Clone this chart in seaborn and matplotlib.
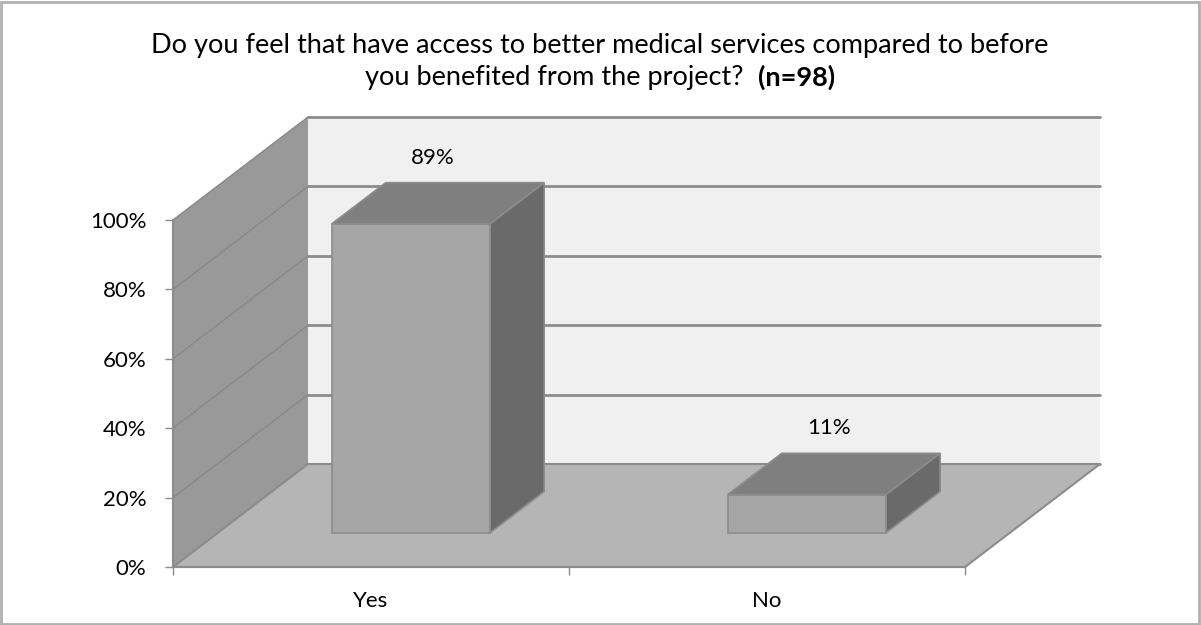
import numpy as np
import pandas as pd
import seaborn as sns
import matplotlib.pyplot as plt
from matplotlib.patches import Polygon, Rectangle

# data
categories = ['Yes', 'No']
values = [89, 11]
y_ticks = [0, 20, 40, 60, 80, 100]
title_main = 'Do you feel that have access to better medical services compared to before'
title_sub = 'you benefited from the project?  '
title_n = '(n=98)'

sns.set_style('white')
plt.rcParams['font.family'] = ['Lato', 'DejaVu Sans']
plt.rcParams['text.color'] = 'black'
plt.rcParams['xtick.labelcolor'] = 'black'
plt.rcParams['ytick.labelcolor'] = 'black'

W, H = 1201, 625
fig = plt.figure(figsize=(W / 100, H / 100), dpi=100)
# front plane of the 3d box: x 173..965 px, y 0% at 567 px, 100% at 220 px
ax = fig.add_axes([173 / W, (H - 567) / H, 792 / W, 347 / H])
ax.set_facecolor('none')

# depth offset of the back wall in data units
DX = 135 / 396
DY = 103 / 3.47
f0, f1 = 0.333, 0.733   # bar front / back depth fraction
shift = -5 / 396        # excel puts the bars a bit left of the category centre

wall_back = '#f0f0f0'
wall_left = '#999999'
floor_col = '#b5b5b5'
edge = '#8c8c8c'

# back wall
ax.add_patch(Polygon([(-0.5 + DX, DY), (1.5 + DX, DY), (1.5 + DX, 100 + DY), (-0.5 + DX, 100 + DY)],
                     closed=True, fc=wall_back, ec='none', zorder=0.5, clip_on=False))
# left wall
ax.add_patch(Polygon([(-0.5, 0), (-0.5 + DX, DY), (-0.5 + DX, 100 + DY), (-0.5, 100)],
                     closed=True, fc=wall_left, ec='none', zorder=0.5, clip_on=False))
# floor
ax.add_patch(Polygon([(-0.5, 0), (1.5, 0), (1.5 + DX, DY), (-0.5 + DX, DY)],
                     closed=True, fc=floor_col, ec=edge, lw=1.5, zorder=0.7, clip_on=False))

# gridlines on back and left wall
for v in y_ticks:
    ax.plot([-0.5 + DX, 1.5 + DX], [v + DY, v + DY], color=edge, lw=2, zorder=0.6, clip_on=False)
    ax.plot([-0.5, -0.5 + DX], [v, v + DY], color='#888888', lw=1, zorder=0.6, clip_on=False)

# bars: front faces from seaborn, then shifted back and given top and side faces
df = pd.DataFrame({'answer': categories, 'share': values})
sns.barplot(data=df, x='answer', y='share', color='#a6a6a6', width=0.4, saturation=1,
            edgecolor=edge, linewidth=1.2, ax=ax, zorder=2)

bdx = (f1 - f0) * DX
bdy = (f1 - f0) * DY
for p, val in zip(ax.patches[-len(values):], values):
    x0 = p.get_x() + f0 * DX + shift
    y0 = f0 * DY
    w = p.get_width()
    h = p.get_height()
    p.set_x(x0)
    p.set_y(y0)
    p.set_clip_on(False)
    top = [(x0, y0 + h), (x0 + w, y0 + h), (x0 + w + bdx, y0 + h + bdy), (x0 + bdx, y0 + h + bdy)]
    side = [(x0 + w, y0), (x0 + w + bdx, y0 + bdy), (x0 + w + bdx, y0 + h + bdy), (x0 + w, y0 + h)]
    ax.add_patch(Polygon(top, closed=True, fc='#7f7f7f', ec=edge, lw=1.2, zorder=2, clip_on=False))
    ax.add_patch(Polygon(side, closed=True, fc='#6a6a6a', ec=edge, lw=1.2, zorder=2, clip_on=False))
    ax.annotate(f'{val}%', (x0 + w / 2 + bdx * 0.4, y0 + h + bdy), xytext=(0, 18),
                textcoords='offset points', ha='center', va='center', fontsize=16,
                zorder=3, annotation_clip=False)

ax.set_xlim(-0.5, 1.5)
ax.set_ylim(0, 100)
ax.set_xlabel('')
ax.set_ylabel('')

ax.set_yticks(y_ticks)
ax.set_yticklabels([f'{v}%' for v in y_ticks], fontsize=16)
ax.tick_params(axis='y', length=6, width=1, color=edge, pad=13, left=True)

ax.set_xticks([-0.5, 0.5, 1.5])
ax.set_xticklabels(['', '', ''])
ax.set_xticks([0, 1], minor=True)
ax.set_xticklabels(categories, minor=True, fontsize=16)
ax.tick_params(axis='x', which='major', length=6, width=1, color=edge, bottom=True)
ax.tick_params(axis='x', which='minor', length=0, pad=17)

for s in ['top', 'right']:
    ax.spines[s].set_visible(False)
for s in ['left', 'bottom']:
    ax.spines[s].set_color(edge)
    ax.spines[s].set_linewidth(1.5)
    ax.spines[s].set_zorder(1)

# title, second line has a bold part
fig.text(600 / W, 1 - 46 / H, title_main, ha='center', va='center', fontsize=19.5)
t1 = fig.text(0, 1 - 77 / H, title_sub, ha='left', va='center', fontsize=19.5)
t2 = fig.text(0, 1 - 77 / H, title_n, ha='left', va='center', fontsize=19.5, fontweight='bold')
r = fig.canvas.get_renderer()
w1 = t1.get_window_extent(r).width
w2 = t2.get_window_extent(r).width
start = 600 - (w1 + w2) / 2
t1.set_x(start / W)
t2.set_x((start + w1) / W)

# chart frame
fig.add_artist(Rectangle((1 / W, 1 / H), (W - 3) / W, (H - 3) / H, transform=fig.transFigure,
                         fill=False, ec='#b0b0b0', lw=2))

fig.savefig('out.png', dpi=100)
